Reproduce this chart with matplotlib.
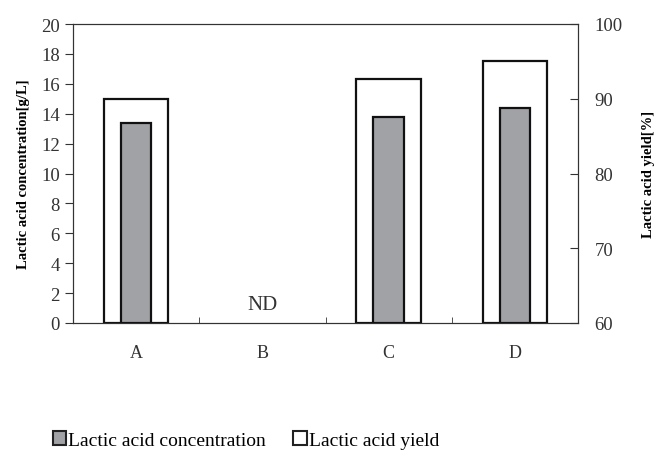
import matplotlib.pyplot as plt
import numpy as np

plt.rcParams['font.family'] = ['Liberation Serif', 'DejaVu Serif']

# datos
muestras = ['A', 'B', 'C', 'D']
concentracion = [13.4, 0.0, 13.8, 14.4]   # g/L (B no detectado)
rendimiento = [90.0, 60.0, 92.7, 95.0]    # % (B no detectado)
detectado = [True, False, True, True]

x = np.arange(len(muestras))

fig = plt.figure(figsize=(6.6, 4.56), dpi=100)
ax = fig.add_axes([73 / 660, 1 - 324 / 456, 505 / 660, 299 / 456])
ax2 = ax.twinx()

# barras de rendimiento (detrás, eje derecho)
for xi, r, d in zip(x, rendimiento, detectado):
    if d:
        ax2.bar(xi, r - 60, bottom=60, width=0.51, color='white',
                edgecolor='#111111', linewidth=1.6)
ax2.set_ylim(60, 100)
ax2.set_yticks([60, 70, 80, 90, 100])

# barras de concentración (delante, eje izquierdo)
for xi, c, d in zip(x, concentracion, detectado):
    if d:
        ax.bar(xi, c, width=0.24, color='#a0a2a6', edgecolor='#111111',
               linewidth=1.6)
ax.set_zorder(ax2.get_zorder() + 1)
ax.patch.set_visible(False)

ax.set_ylim(0, 20)
ax.set_yticks(range(0, 21, 2))
ax.set_xlim(-0.5, len(muestras) - 0.5)
ax.set_xticks(x)
ax.set_xticklabels(muestras)
ax.set_xticks(np.arange(0.5, len(muestras) - 0.5), minor=True)
ax.tick_params(axis='x', which='major', length=0, pad=15, labelsize=13,
               labelcolor='#333333')
ax.tick_params(axis='x', which='minor', direction='in', length=4, color='#333333')
ax.tick_params(axis='y', direction='out', length=6, labelsize=13.5,
               labelcolor='#333333', color='#333333')
ax2.tick_params(axis='y', direction='in', length=6, labelsize=13.5,
                labelcolor='#333333', color='#333333', pad=12)

for s in ax.spines.values():
    s.set_color('#333333')
for s in ax2.spines.values():
    s.set_color('#333333')

for xi, d in zip(x, detectado):
    if not d:
        ax.text(xi, 0.6, 'ND', ha='center', va='bottom', fontsize=15,
                color='#333333')

ax.set_ylabel('Lactic acid concentration[g/L]', fontsize=10.5,
              fontweight='bold', labelpad=8)
ax2.set_ylabel('Lactic acid yield[%]', fontsize=10.5, fontweight='bold',
               labelpad=14)

# leyenda
h1 = plt.Rectangle((0, 0), 1, 1, facecolor='#a0a2a6', edgecolor='#222222', linewidth=1.5)
h2 = plt.Rectangle((0, 0), 1, 1, facecolor='white', edgecolor='#222222', linewidth=1.5)
fig.legend([h1, h2], ['Lactic acid concentration', 'Lactic acid yield'],
           loc='center left', bbox_to_anchor=(0.068, 0.033), ncol=2,
           frameon=False, fontsize=14, handlelength=0.7, handleheight=0.7,
           handletextpad=0.1, columnspacing=1.4, borderaxespad=0)

fig.savefig('out.png', dpi=100)
